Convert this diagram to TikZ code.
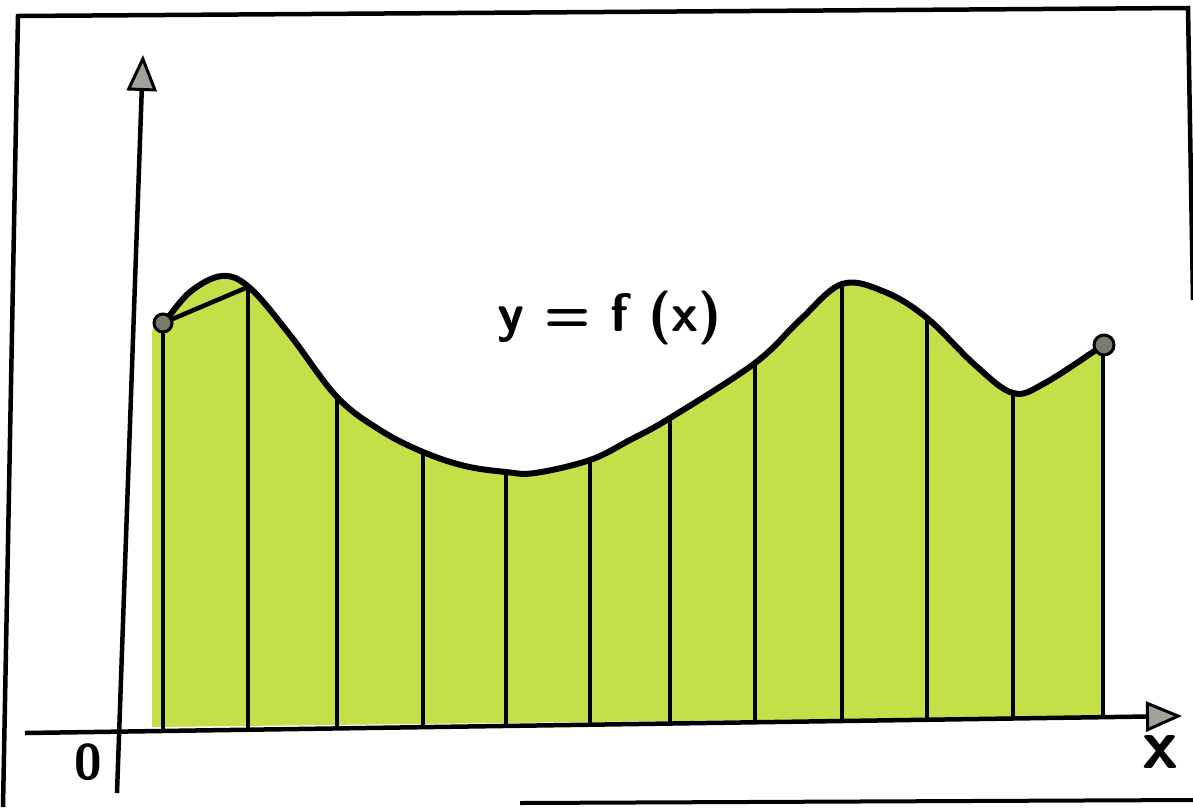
\documentclass[tikz,border=0pt]{standalone}
\usepackage{fontspec}
\usetikzlibrary{arrows.meta}
\definecolor{areagreen}{RGB}{196,224,72}
\definecolor{dotgray}{RGB}{120,124,110}
\tikzset{
	axis/.style={line width=4.5pt,-{Triangle[length=36pt,width=30pt,fill=dotgray!70,line width=3pt]}},
	strip/.style={line width=4.5pt},
	graph/.style={line width=6pt,line join=round},
	enddot/.style={circle,draw,line width=3pt,fill=dotgray,minimum size=20pt,inner sep=0pt},
	hand/.style={font=\sffamily\bfseries\fontsize{54}{60}\selectfont}
}
\begin{document}
\begin{tikzpicture}[x=1pt,y=-1pt]
	\useasboundingbox (0,0) rectangle (1193,807);
	% paper frame
	\draw[line width=4.5pt] (3,807) -- (18,16) -- (1188,8) -- (1193,300);
	\draw[line width=4pt] (520,803) -- (1193,800);
	% area under the curve
	\fill[areagreen] (152,727) -- (152,330) -- (165,322)
		-- plot[smooth,tension=0.6] coordinates {(165,322) (190,292) (222,276) (250,288) (290,335) (337,397) (380,430) (423,452) (465,466) (506,472) (535,473) (590,460) (630,440) (670,418) (755,363) (800,320) (842,284) (885,292) (927,318) (975,365) (1013,393) (1045,383) (1103,345)}
		-- (1103,716) -- cycle;
	% axes
	\coordinate (xl) at (25,733);
	\coordinate (xr) at (1182,716);
	\coordinate (yb) at (117,793);
	\coordinate (yt) at (143,55);
	\draw[axis] (xl) -- (xr);
	\draw[axis] (yb) -- (yt);
	\node[hand,font=\sffamily\bfseries\fontsize{50}{56}\selectfont] (o) at (88,762) {0};
	\node[hand,font=\sffamily\bfseries\fontsize{72}{76}\selectfont] (xlab) at (1160,752) {x};
	% strips
	\foreach \x/\y [count=\i] in {163/323, 248/287, 337/398, 423/452, 506/472, 590/460, 670/418, 755/363, 842/285, 927/318, 1013/393, 1103/345} {
		\coordinate (t\i) at (\x,\y);
		\coordinate (b\i) at (\x,{733-(\x-25)*0.0147});
		\draw[strip] (t\i) -- (b\i);
	}
	\draw[strip] (t1) -- (t2);
	% the curve
	\draw[graph] plot[smooth,tension=0.6] coordinates {(165,322) (190,292) (222,276) (250,288) (290,335) (337,397) (380,430) (423,452) (465,466) (506,472) (535,473) (590,460) (630,440) (670,418) (755,363) (800,320) (842,284) (885,292) (927,318) (975,365) (1013,393) (1045,383) (1103,345)};
	\node[enddot,minimum size=18pt] (p0) at (t1) {};
	\node[enddot] (p1) at (1104,345) {};
	\node[hand] (flab) at (610,318) {y = f (x)};
\end{tikzpicture}
\end{document}
